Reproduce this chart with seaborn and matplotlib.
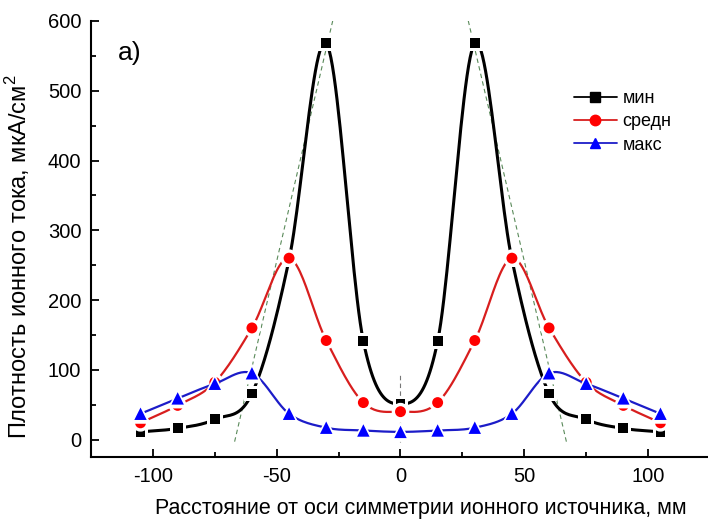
import numpy as np
import pandas as pd
import matplotlib
matplotlib.use('Agg')
import matplotlib.pyplot as plt
import seaborn as sns
from matplotlib.lines import Line2D
from matplotlib.ticker import MultipleLocator

# distance from the source symmetry axis, mm
distance = [-105, -90, -75, -60, -45, -30, -15, 0, 15, 30, 45, 60, 75, 90, 105]
# ion current density, uA/cm^2
j_min = [11, 16, 29, 66, 258, 568, 141, 51, 141, 568, 258, 66, 29, 16, 11]
j_mid = [24, 49, 82, 160, 260, 142, 53, 40, 53, 142, 260, 160, 82, 49, 24]
j_max = [37, 59, 80, 95, 37, 17, 13, 11, 13, 17, 37, 95, 80, 59, 37]
series_names = ['мин', 'средн', 'макс']

# dashed guide lines
guide_left_x = [-67, -27]
guide_right_x = [67, 27]
guide_y = [-3, 606]
axis_guide_x = [0, 0]
axis_guide_y = [-3, 96]

sns.set_style('ticks')
plt.rcParams['font.family'] = ['Liberation Sans', 'DejaVu Sans']
plt.rcParams['mathtext.fontset'] = 'custom'
plt.rcParams['mathtext.rm'] = 'Liberation Sans'
plt.rcParams['axes.unicode_minus'] = False
plt.rcParams['text.color'] = 'black'
plt.rcParams['axes.labelcolor'] = 'black'
plt.rcParams['xtick.color'] = 'black'
plt.rcParams['ytick.color'] = 'black'
plt.rcParams['axes.edgecolor'] = 'black'


def smooth(x, y, n=24):
    # cubic Hermite (Catmull-Rom) curve through the points, like Origin's spline line
    x = np.asarray(x, float)
    y = np.asarray(y, float)
    m = np.gradient(y, x)
    xs, ys = [], []
    t = np.linspace(0, 1, n, endpoint=False)
    for i in range(len(x) - 1):
        h = x[i + 1] - x[i]
        h00 = 2 * t**3 - 3 * t**2 + 1
        h10 = t**3 - 2 * t**2 + t
        h01 = -2 * t**3 + 3 * t**2
        h11 = t**3 - t**2
        xs.append(x[i] + t * h)
        ys.append(h00 * y[i] + h10 * h * m[i] + h01 * y[i + 1] + h11 * h * m[i + 1])
    xs.append([x[-1]])
    ys.append([y[-1]])
    return np.concatenate(xs), np.concatenate(ys)


data = pd.DataFrame({'x': distance * 3,
                     'j': j_min + j_mid + j_max,
                     'series': [s for s in series_names for _ in distance]})

styles = {
    'мин': dict(line='black', face='black', marker='s', size=50, lw=2.2),
    'средн': dict(line='#d81e1e', face='#ff0000', marker='o', size=62, lw=1.6),
    'макс': dict(line='#1c1cc8', face='#0000ff', marker='^', size=80, lw=1.6),
}

fig = plt.figure(figsize=(7.08, 5.24), dpi=100)
ax = fig.add_axes([91 / 708, 67 / 524, 619 / 708, 436 / 524])

ax.plot(guide_left_x, guide_y, ls=(0, (4, 3)), color='#5a8a5a', lw=0.8, zorder=1)
ax.plot(guide_right_x, guide_y, ls=(0, (4, 3)), color='#5a8a5a', lw=0.8, zorder=1)
ax.plot(axis_guide_x, axis_guide_y, ls=(0, (4, 3)), color='#777777', lw=0.8, zorder=1)

z = 2
for name in series_names:
    st = styles[name]
    sub = data[data['series'] == name]
    sx, sy = smooth(sub['x'], sub['j'])
    ax.plot(sx, sy, color=st['line'], lw=st['lw'], zorder=z)
    # white halo gives the line gaps near symbols
    sns.scatterplot(x=sub['x'], y=sub['j'], marker=st['marker'], s=st['size'] * 2.6,
                    color='white', edgecolor='none', ax=ax, zorder=z + 0.5, legend=False)
    sns.scatterplot(x=sub['x'], y=sub['j'], marker=st['marker'], s=st['size'],
                    color=st['face'], edgecolor='none', ax=ax, zorder=z + 1, legend=False)
    z += 2

ax.set_xlim(-125, 125)
ax.set_ylim(-25, 600)
ax.xaxis.set_major_locator(MultipleLocator(50))
ax.xaxis.set_minor_locator(MultipleLocator(25))
ax.yaxis.set_major_locator(MultipleLocator(100))
ax.yaxis.set_minor_locator(MultipleLocator(50))
ax.tick_params(which='major', direction='in', length=6, width=1.3, labelsize=14.5, pad=7)
ax.tick_params(which='minor', direction='in', length=3.5, width=1.3)
sns.despine(ax=ax)
ax.spines['left'].set_bounds(-25, 600)
for sp in ('left', 'bottom'):
    ax.spines[sp].set_linewidth(1.5)

ax.set_xlabel('Расстояние от оси симметрии ионного источника, мм', fontsize=15.5)
ax.set_ylabel('Плотность ионного тока, мкА/см$^{2}$', fontsize=17)
ax.xaxis.set_label_coords(0.533, -0.095)
ax.yaxis.set_label_coords(-0.095, 0.46)

ax.text(-114, 544, 'a)', fontsize=19)

handles = [Line2D([], [], color=styles[n]['line'], lw=1.3, marker=styles[n]['marker'],
                  markersize=7.5, markerfacecolor=styles[n]['face'],
                  markeredgecolor=styles[n]['face']) for n in series_names]
ax.legend(handles, series_names, loc='upper left', bbox_to_anchor=(0.78, 0.842),
          frameon=False, fontsize=13, handlelength=2.4, handletextpad=0.3,
          labelspacing=0.35, borderpad=0, borderaxespad=0)

fig.savefig('out.png', dpi=100)
